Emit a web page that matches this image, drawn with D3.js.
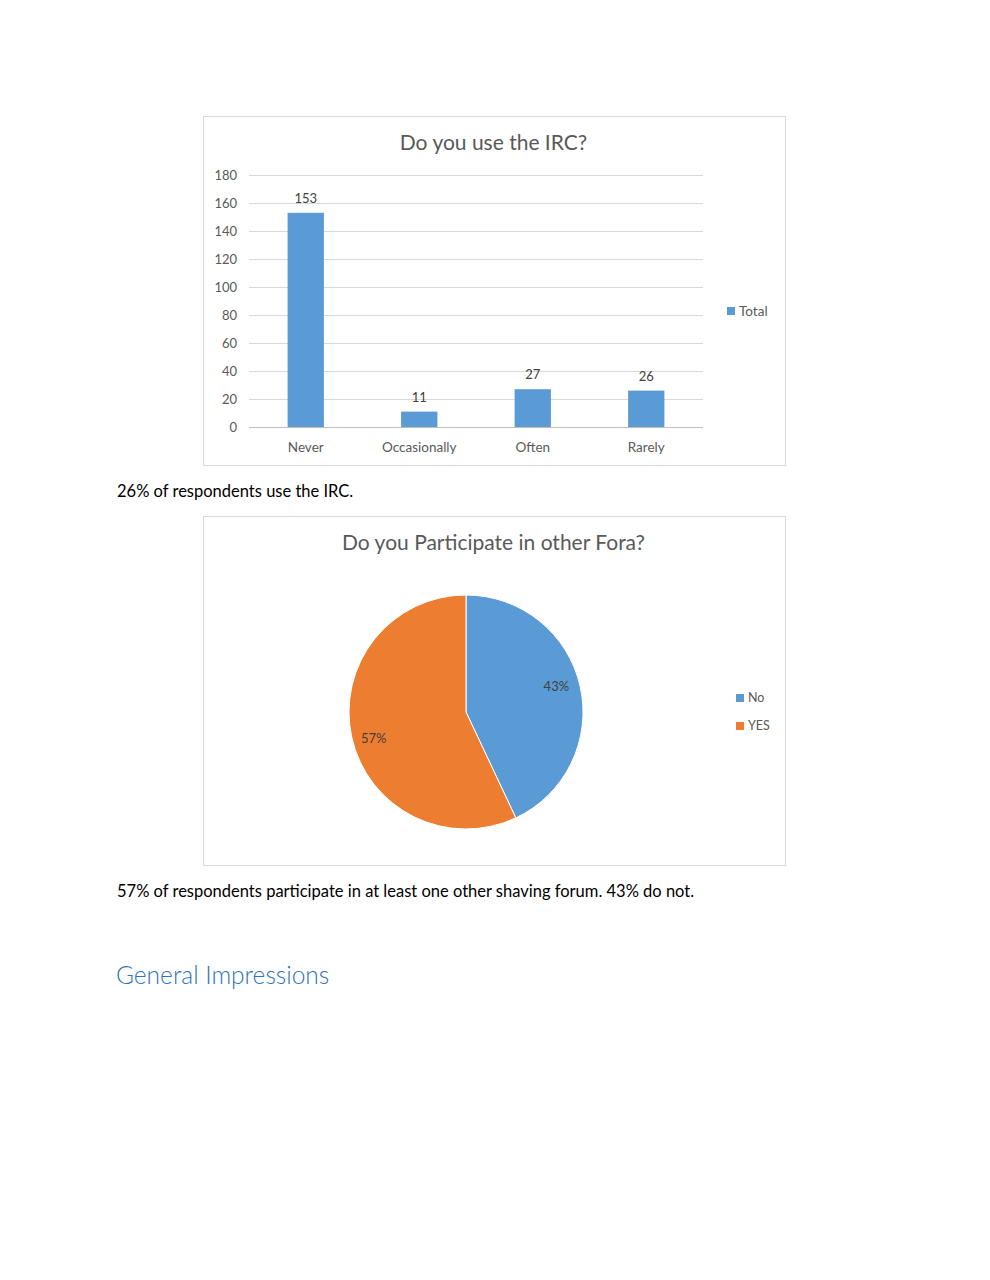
<!DOCTYPE html>
<html>
<head>
<meta charset="utf-8">
<script src="https://cdn.jsdelivr.net/npm/d3@7"></script>
<style>
  body { margin: 0; background: #fff; }
  text { font-family: Lato, "Open Sans", sans-serif; }
</style>
</head>
<body>
<script>
// Données du graphique en barres
const ircCategories = ["Never", "Occasionally", "Often", "Rarely"];
const ircValues = [153, 11, 27, 26];
const ircTicks = [0, 20, 40, 60, 80, 100, 120, 140, 160, 180];

// Données du camembert
const foraLabels = ["No", "YES"];
const foraValues = [43, 57];

const blue = "#5b9bd5";
const orange = "#ed7d31";
const axisGray = "#595959";

const svg = d3.select("body").append("svg").attr("width", 990).attr("height", 1280);

drawBarChart();
drawPieChart();
drawTexts();

function drawFrame(x, y, w, h, title) {
    svg.append("rect")
        .attr("x", x + 0.5).attr("y", y + 0.5)
        .attr("width", w).attr("height", h)
        .style("fill", "#fff")
        .style("stroke", "#d9d9d9");
    svg.append("text")
        .attr("x", x + w / 2 - 0.5)
        .attr("y", y + 34)
        .attr("text-anchor", "middle")
        .style("font-size", "21px")
        .style("fill", axisGray)
        .text(title);
}

function drawBarChart() {
    drawFrame(203, 116, 582, 349, "Do you use the IRC?");

    const x = d3.scaleBand().domain(ircCategories).range([249, 703])
        .paddingInner(0.68).paddingOuter(0.34);
    const y = d3.scaleLinear().domain([0, 180]).range([427, 175]);

    // Lignes de grille
    svg.append("g").selectAll("line")
        .data(ircTicks)
        .enter()
        .append("line")
        .attr("x1", 249).attr("x2", 703)
        .attr("y1", (d) => Math.round(y(d)) + 0.5)
        .attr("y2", (d) => Math.round(y(d)) + 0.5)
        .style("stroke", (d) => d === 0 ? "#bfbfbf" : "#d9d9d9")
        .style("stroke-width", 1);

    const yAxis = svg.append("g")
        .attr("transform", "translate(241,0)")
        .call(d3.axisLeft(y).tickValues(ircTicks).tickSize(0).tickPadding(4));
    yAxis.select(".domain").remove();
    yAxis.selectAll("text").style("font-size", "13px").style("fill", axisGray).style("font-family", "Lato, sans-serif");

    const xAxis = svg.append("g")
        .attr("transform", "translate(0,440)")
        .call(d3.axisBottom(x).tickSize(0).tickPadding(2));
    xAxis.select(".domain").remove();
    xAxis.selectAll("text").style("font-size", "13.5px").style("fill", axisGray).style("font-family", "Lato, sans-serif");

    svg.selectAll(".bar")
        .data(ircValues)
        .enter()
        .append("rect")
        .attr("class", "bar")
        .attr("x", (d, i) => x(ircCategories[i]))
        .attr("y", (d) => y(d))
        .attr("width", x.bandwidth())
        .attr("height", (d) => y(0) - y(d))
        .style("fill", blue);

    svg.selectAll(".barLabel")
        .data(ircValues)
        .enter()
        .append("text")
        .attr("class", "barLabel")
        .attr("x", (d, i) => x(ircCategories[i]) + x.bandwidth() / 2)
        .attr("y", (d) => y(d) - 10)
        .attr("text-anchor", "middle")
        .style("font-size", "13px")
        .style("fill", "#404040")
        .text((d) => d);

    // Légende
    svg.append("rect").attr("x", 727).attr("y", 307).attr("width", 8).attr("height", 8).style("fill", blue);
    svg.append("text").attr("x", 739).attr("y", 316).style("font-size", "13.5px").style("fill", axisGray).text("Total");
}

function drawPieChart() {
    drawFrame(203, 516, 582, 349, "Do you Participate in other Fora?");

    const cx = 466, cy = 712, r = 117;
    const pie = d3.pie().sort(null)(foraValues);
    const arc = d3.arc().innerRadius(0).outerRadius(r);
    const labelArc = d3.arc().innerRadius(r * 0.8).outerRadius(r * 0.8);
    const colors = [blue, orange];

    const g = svg.append("g").attr("transform", `translate(${cx},${cy})`);
    g.selectAll("path")
        .data(pie)
        .enter()
        .append("path")
        .attr("d", arc)
        .style("fill", (d, i) => colors[i])
        .style("stroke", "#fff")
        .style("stroke-width", 1);

    g.selectAll(".pieLabel")
        .data(pie)
        .enter()
        .append("text")
        .attr("class", "pieLabel")
        .attr("transform", (d) => {
            const [lx, ly] = labelArc.centroid(d);
            return `translate(${lx - 1},${ly + (ly < 0 ? -5 : 6)})`;
        })
        .attr("text-anchor", "middle")
        .attr("dy", "0.35em")
        .style("font-size", "13px")
        .style("fill", "#404040")
        .text((d) => d.data + "%");

    // Légende
    foraLabels.forEach((label, i) => {
        svg.append("rect").attr("x", 736).attr("y", 694 + i * 28).attr("width", 8).attr("height", 8).style("fill", colors[i]);
        svg.append("text").attr("x", 748).attr("y", 702 + i * 28).style("font-size", "12.5px").style("fill", axisGray).text(label);
    });
}

function drawTexts() {
    svg.append("text").attr("x", 117).attr("y", 497)
        .style("font-size", "16.5px").style("fill", "#000")
        .text("26% of respondents use the IRC.");
    svg.append("text").attr("x", 117).attr("y", 897)
        .style("font-size", "16.5px").style("fill", "#000")
        .text("57% of respondents participate in at least one other shaving forum. 43% do not.");
    svg.append("text").attr("x", 116).attr("y", 984)
        .style("font-size", "24.5px").style("font-weight", 300).style("fill", "#2e74b5")
        .text("General Impressions");
}
</script>
</body>
</html>
